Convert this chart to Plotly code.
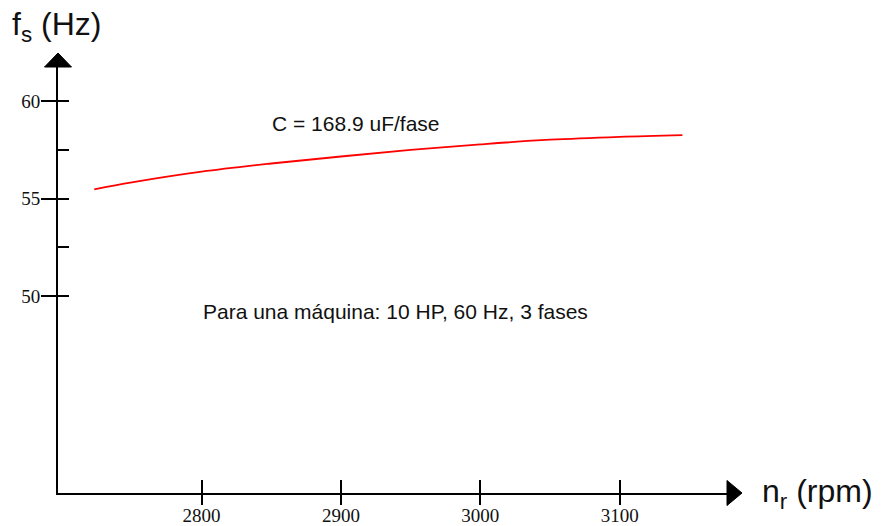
import plotly.graph_objects as go

# Data
speed_rpm = [2723, 2750, 2800, 2850, 2900, 2950, 3000, 3050, 3100, 3145]
freq_hz = [55.47, 55.83, 56.38, 56.80, 57.16, 57.50, 57.78, 58.02, 58.17, 58.26]

x_tickvals = [2800, 2900, 3000, 3100]
x_ticktext = ["2800", "2900", "3000", "3100"]
y_tickvals = [50, 55, 60]
y_ticktext = ["50", "55", "60"]
y_minor_tickvals = [50, 52.5, 55, 57.5, 60]

X_RANGE = [2697, 3177]
Y_RANGE = [39.9, 61.75]

ML, MR, MT, MB = 58, 156, 67, 33
W, H = 883, 526

fig = go.Figure()
fig.add_trace(go.Scatter(
    x=speed_rpm, y=freq_hz, mode="lines", line_shape="spline",
    line=dict(color="#ff0000", width=1.8), showlegend=False, hoverinfo="skip",
))
# invisible trace to activate overlay axes
fig.add_trace(go.Scatter(x=[None], y=[None], xaxis="x2", yaxis="y2", showlegend=False))

tickfont = dict(family="Liberation Serif", size=19, color="#111")

fig.update_layout(
    template="none",
    width=W, height=H,
    margin=dict(l=ML, r=MR, t=MT, b=MB, autoexpand=False),
    paper_bgcolor="white", plot_bgcolor="white",
    xaxis=dict(range=X_RANGE, showgrid=False, zeroline=False, showline=True,
               linecolor="black", linewidth=2, ticks="outside", ticklen=10,
               tickwidth=2, tickcolor="black", tickvals=x_tickvals,
               ticktext=x_ticktext, tickfont=tickfont, fixedrange=True,
               automargin=False, ticklabelstandoff=-6),
    xaxis2=dict(range=X_RANGE, overlaying="x", showgrid=False, zeroline=False,
                showline=False, ticks="inside", ticklen=13, tickwidth=2,
                tickcolor="black", tickvals=x_tickvals, showticklabels=False,
                side="bottom", anchor="y", automargin=False),
    yaxis=dict(range=Y_RANGE, showgrid=False, zeroline=False, showline=True,
               linecolor="black", linewidth=2, ticks="outside", ticklen=15,
               tickwidth=2, tickcolor="black", tickvals=y_tickvals,
               ticktext=y_ticktext, tickfont=tickfont, fixedrange=True,
               automargin=False, ticklabelstandoff=-3),
    yaxis2=dict(range=Y_RANGE, overlaying="y", showgrid=False, zeroline=False,
                showline=False, ticks="inside", ticklen=11, tickwidth=2,
                tickcolor="black", tickvals=y_minor_tickvals,
                showticklabels=False, side="left", anchor="x", automargin=False),
)

# Arrowheads at axis ends (paper refs so they are not clipped)
fig.add_shape(type="path", xref="paper", yref="paper", xsizemode="pixel", ysizemode="pixel",
              xanchor=0, yanchor=1,
              path="M-13.5,0 L13.5,0 L0,14 Z", fillcolor="black",
              line=dict(color="black", width=1), layer="above")
fig.add_shape(type="path", xref="paper", yref="paper", xsizemode="pixel", ysizemode="pixel",
              xanchor=1, yanchor=0,
              path="M0,-12.5 L0,12.5 L15,0 Z", fillcolor="black",
              line=dict(color="black", width=1), layer="above")

textfont = dict(family="Liberation Sans", size=21, color="#111")
fig.add_annotation(x=0, y=1, xref="paper", yref="paper",
                   text="f<sub>s</sub> (Hz)", showarrow=False,
                   xanchor="left", yanchor="bottom", xshift=-48, yshift=18,
                   font=dict(family="Liberation Sans", size=32, color="#111"))
fig.add_annotation(x=1, y=0, xref="paper", yref="paper",
                   text="n<sub>r</sub> (rpm)", showarrow=False,
                   xanchor="left", yanchor="middle", xshift=33, yshift=0,
                   font=dict(family="Liberation Sans", size=32, color="#111"))
fig.add_annotation(x=2911, y=58.87, xref="x", yref="y", text="C = 168.9 uF/fase",
                   showarrow=False, font=textfont)
fig.add_annotation(x=2939, y=49.2, xref="x", yref="y",
                   text="Para una máquina: 10 HP, 60 Hz, 3 fases",
                   showarrow=False, font=textfont)

fig.write_html("out.html")
